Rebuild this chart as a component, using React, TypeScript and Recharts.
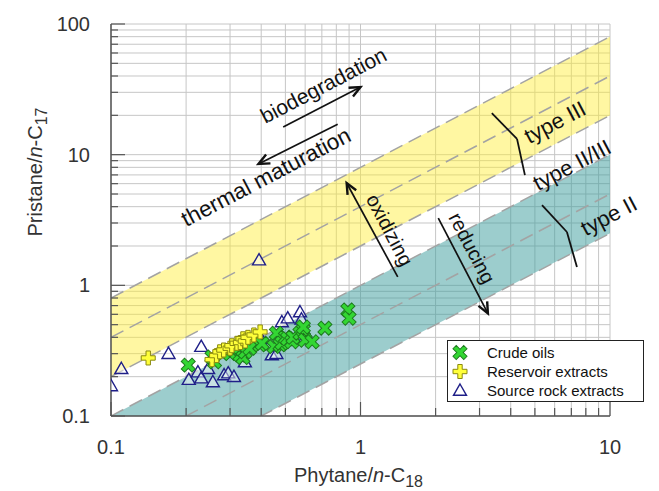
import React from 'react';
import {
  ComposedChart,
  Area,
  Line,
  Scatter,
  XAxis,
  YAxis,
  CartesianGrid,
  ReferenceLine,
  ReferenceDot,
  Legend,
} from 'recharts';

const FONT = '"Liberation Sans", Arial, Helvetica, sans-serif';
const INK = '#111';
const AXIS = '#555';

// axes (log-log)
const xTicks = [0.1, 0.2, 0.3, 0.4, 0.5, 0.6, 0.7, 0.8, 0.9, 1, 2, 3, 4, 5, 6, 7, 8, 9, 10];
const yTicks = [
  0.1, 0.2, 0.3, 0.4, 0.5, 0.6, 0.7, 0.8, 0.9, 1, 2, 3, 4, 5, 6, 7, 8, 9, 10, 20, 30, 40, 50, 60, 70, 80, 90, 100,
];
const xMajor = [0.1, 1, 10];
const yMajor = [0.1, 1, 10, 100];

// kerogen-type bands: Pr/C17 at Ph/C18 = 0.1 and 10
const bandX = [0.1, 10];
const yellowLow = [0.2, 20];
const yellowMid = [0.4, 40];
const yellowHigh = [0.8, 80];
const tealLow = [0.025, 2.5];
const tealMid = [0.05, 5];
const tealHigh = [0.1, 10];

// samples [Ph/C18, Pr/C17]
const crudeOils = [
  [0.204, 0.245], [0.254, 0.283], [0.26, 0.26], [0.3, 0.3], [0.31, 0.32], [0.329, 0.293], [0.338, 0.28],
  [0.345, 0.31], [0.36, 0.33], [0.395, 0.35], [0.403, 0.36], [0.45, 0.34], [0.46, 0.43], [0.476, 0.35],
  [0.484, 0.362], [0.5, 0.4], [0.51, 0.39], [0.53, 0.37], [0.536, 0.4], [0.572, 0.43], [0.59, 0.455],
  [0.59, 0.48], [0.6, 0.38], [0.64, 0.37], [0.72, 0.47], [0.89, 0.648], [0.9, 0.56],
];
const reservoirExtracts = [
  [0.141, 0.278], [0.254, 0.27], [0.265, 0.29], [0.273, 0.31], [0.283, 0.32], [0.3, 0.33], [0.305, 0.345],
  [0.32, 0.36], [0.33, 0.365], [0.338, 0.39], [0.345, 0.375], [0.354, 0.4], [0.374, 0.417], [0.396, 0.44],
];
const sourceRockExtracts = [
  [0.1, 0.17], [0.11, 0.23], [0.17, 0.3], [0.23, 0.34], [0.205, 0.19], [0.223, 0.217], [0.23, 0.195],
  [0.256, 0.182], [0.245, 0.23], [0.284, 0.206], [0.295, 0.213], [0.311, 0.2], [0.344, 0.259], [0.4, 0.39],
  [0.441, 0.293], [0.46, 0.3], [0.476, 0.382], [0.484, 0.524], [0.511, 0.562], [0.572, 0.625], [0.58, 0.55],
  [0.6, 0.4], [0.62, 0.39], [0.392, 1.56],
];

const bandData = bandX.map((x, i) => ({
  x,
  yellow: [yellowLow[i], yellowHigh[i]],
  teal: [tealLow[i], tealHigh[i]],
  yLo: yellowLow[i],
  yMid: yellowMid[i],
  yHi: yellowHigh[i],
  tLo: tealLow[i],
  tMid: tealMid[i],
  tHi: tealHigh[i],
}));

const toPoints = (rows: number[][]) => rows.map(([x, y]) => ({ x, y }));

// markers
function CrossX({ cx, cy }: any) {
  const L = 7.6, a = 2.3;
  const d = `M${-a},${-L}L${a},${-L}L${a},${-a}L${L},${-a}L${L},${a}L${a},${a}L${a},${L}L${-a},${L}L${-a},${a}L${-L},${a}L${-L},${-a}L${-a},${-a}Z`;
  return <path d={d} transform={`translate(${cx},${cy}) rotate(45)`} fill="#33d633" stroke="#1d7a1d" strokeWidth={1} />;
}
function Plus({ cx, cy }: any) {
  const L = 7, a = 2.2;
  const d = `M${-a},${-L}L${a},${-L}L${a},${-a}L${L},${-a}L${L},${a}L${a},${a}L${a},${L}L${-a},${L}L${-a},${a}L${-L},${a}L${-L},${-a}L${-a},${-a}Z`;
  return <path d={d} transform={`translate(${cx},${cy})`} fill="#ffff3a" stroke="#8a8a10" strokeWidth={1} />;
}
function Tri({ cx, cy }: any) {
  return (
    <path
      d={`M${cx},${cy - 6.5}L${cx + 6.5},${cy + 4.8}L${cx - 6.5},${cy + 4.8}Z`}
      fill="rgba(255,255,255,0.45)"
      stroke="#1f1f88"
      strokeWidth={1.4}
    />
  );
}

function XTick({ x, y, payload }: any) {
  const v = payload.value;
  const major = xMajor.includes(v);
  return (
    <g>
      <line x1={x} x2={x} y1={y} y2={y - (major ? 14 : 8)} stroke={AXIS} strokeWidth={1.2} />
      {major && (
        <text x={x} y={y + 31} textAnchor="middle" dominantBaseline="central" fontSize={20} fill="#333" fontFamily={FONT}>
          {String(v)}
        </text>
      )}
    </g>
  );
}

function YTick({ x, y, payload }: any) {
  const v = payload.value;
  const major = yMajor.includes(v);
  return (
    <g>
      <line x1={x} x2={x + (major ? 14 : 7)} y1={y} y2={y} stroke={AXIS} strokeWidth={1.2} />
      {major && (
        <text x={x - 21} y={y} textAnchor="end" dominantBaseline="central" fontSize={20} fill="#333" fontFamily={FONT}>
          {String(v)}
        </text>
      )}
    </g>
  );
}

function XTitle(props: any) {
  const vb = props.viewBox || props;
  const cx = vb.x + vb.width / 2 - 2;
  const cy = vb.y + 66;
  return (
    <text x={cx} y={cy} textAnchor="middle" fontSize={20} fill="#333" fontFamily={FONT}>
      Phytane/<tspan fontStyle="italic">n</tspan>-C<tspan dy={5} fontSize={16}>18</tspan>
    </text>
  );
}

function YTitle(props: any) {
  const vb = props.viewBox || props;
  const cx = vb.x + 42;
  const cy = vb.y + 148;
  return (
    <text x={cx} y={cy} transform={`rotate(-90 ${cx} ${cy})`} textAnchor="middle" fontSize={20} fill="#333" fontFamily={FONT}>
      Pristane/<tspan fontStyle="italic">n</tspan>-C<tspan dy={5} fontSize={16}>17</tspan>
    </text>
  );
}

function Arrow(props: any) {
  const { x1, y1, x2, y2 } = props;
  const ang = Math.atan2(y2 - y1, x2 - x1);
  const len = 12, spread = 0.42;
  const ax = x2 - len * Math.cos(ang - spread), ay = y2 - len * Math.sin(ang - spread);
  const bx = x2 - len * Math.cos(ang + spread), by = y2 - len * Math.sin(ang + spread);
  return (
    <g>
      <line x1={x1} y1={y1} x2={x2} y2={y2} stroke={INK} strokeWidth={1.7} />
      <path d={`M${ax},${ay}L${x2},${y2}L${bx},${by}`} fill="none" stroke={INK} strokeWidth={2.4} />
    </g>
  );
}

function note(text: string, angle: number, size: number) {
  return (p: any) => (
    <text
      x={p.cx}
      y={p.cy}
      transform={`rotate(${angle} ${p.cx} ${p.cy})`}
      textAnchor="middle"
      dominantBaseline="central"
      fontSize={size}
      fill={INK}
      fontFamily={FONT}
    >
      {text}
    </text>
  );
}

const legendRows = [
  { name: 'Crude oils', Mark: CrossX },
  { name: 'Reservoir extracts', Mark: Plus },
  { name: 'Source rock extracts', Mark: Tri },
];

function LegendBox() {
  return (
    <div
      style={{
        width: 197,
        height: 62,
        boxSizing: 'border-box',
        border: '1.5px solid #222',
        background: '#fff',
        paddingTop: 2,
        fontFamily: FONT,
        fontSize: 15,
        color: INK,
      }}
    >
      {legendRows.map(({ name, Mark }) => (
        <div key={name} style={{ display: 'flex', alignItems: 'center', height: 19 }}>
          <svg width={24} height={19}>
            <Mark cx={12} cy={9.5} />
          </svg>
          <span style={{ marginLeft: 15 }}>{name}</span>
        </div>
      ))}
    </div>
  );
}

const dashed = { stroke: '#a3a3a3', strokeWidth: 1.5, strokeDasharray: '14 7', dot: false, isAnimationActive: false, legendType: 'none' as const };
const bracket = { stroke: INK, strokeWidth: 1.8, ifOverflow: 'visible' as const };

export default function App() {
  return (
    <div style={{ position: 'absolute', left: 0, top: 0, background: '#fff' }}>
      <ComposedChart width={659} height={491} data={bandData} margin={{ top: 24, right: 49, bottom: 15, left: 0 }}>
        <CartesianGrid stroke="#c6c6c6" strokeWidth={1} />
        <XAxis
          dataKey="x"
          type="number"
          scale="log"
          domain={[0.1, 10]}
          ticks={xTicks}
          interval={0}
          allowDataOverflow
          height={60}
          tickSize={0}
          tickMargin={0}
          tickLine={false}
          tick={<XTick />}
          axisLine={{ stroke: AXIS, strokeWidth: 1.5 }}
          label={<XTitle />}
        />
        <YAxis
          dataKey="y"
          type="number"
          scale="log"
          domain={[0.1, 100]}
          ticks={yTicks}
          interval={0}
          allowDataOverflow
          width={111}
          tickSize={0}
          tickMargin={0}
          tickLine={false}
          tick={<YTick />}
          axisLine={{ stroke: AXIS, strokeWidth: 1.5 }}
          label={<YTitle />}
        />

        <Area dataKey="yellow" type="linear" fill="#ffee30" fillOpacity={0.45} stroke="none" isAnimationActive={false} legendType="none" />
        <Area dataKey="teal" type="linear" fill="#3a9c9c" fillOpacity={0.5} stroke="none" isAnimationActive={false} legendType="none" />
        <Line dataKey="yLo" {...dashed} />
        <Line dataKey="yMid" {...dashed} />
        <Line dataKey="yHi" {...dashed} />
        <Line dataKey="tLo" {...dashed} />
        <Line dataKey="tMid" {...dashed} />
        <Line dataKey="tHi" {...dashed} />

        <Scatter name="Source rock extracts" data={toPoints(sourceRockExtracts)} dataKey="y" shape={<Tri />} isAnimationActive={false} />
        <Scatter name="Crude oils" data={toPoints(crudeOils)} dataKey="y" shape={<CrossX />} isAnimationActive={false} />
        <Scatter name="Reservoir extracts" data={toPoints(reservoirExtracts)} dataKey="y" shape={<Plus />} isAnimationActive={false} />

        {/* kerogen type brackets */}
        <ReferenceLine segment={[{ x: 3.36, y: 20.8 }, { x: 4.24, y: 13.2 }]} {...bracket} />
        <ReferenceLine segment={[{ x: 4.24, y: 13.2 }, { x: 4.56, y: 6.98 }]} {...bracket} />
        <ReferenceLine segment={[{ x: 5.34, y: 4.11 }, { x: 6.72, y: 2.56 }]} {...bracket} />
        <ReferenceLine segment={[{ x: 6.72, y: 2.56 }, { x: 7.37, y: 1.38 }]} {...bracket} />

        {/* process arrows */}
        <ReferenceLine segment={[{ x: 0.49, y: 16.3 }, { x: 1.0, y: 32.9 }]} ifOverflow="visible" shape={<Arrow />} />
        <ReferenceLine segment={[{ x: 0.81, y: 17.1 }, { x: 0.39, y: 8.5 }]} ifOverflow="visible" shape={<Arrow />} />
        <ReferenceLine segment={[{ x: 1.41, y: 1.16 }, { x: 0.88, y: 6.07 }]} ifOverflow="visible" shape={<Arrow />} />
        <ReferenceLine segment={[{ x: 2.05, y: 3.27 }, { x: 3.24, y: 0.61 }]} ifOverflow="visible" shape={<Arrow />} />

        <ReferenceDot x={0.71} y={34} ifOverflow="visible" shape={note('biodegradation', -27.6, 21)} />
        <ReferenceDot x={0.418} y={6.74} ifOverflow="visible" shape={note('thermal maturation', -27.6, 22.5)} />
        <ReferenceDot x={1.31} y={2.65} ifOverflow="visible" shape={note('oxidizing', 62.4, 20)} />
        <ReferenceDot x={2.8} y={1.93} ifOverflow="visible" shape={note('reducing', 62.4, 20)} />
        <ReferenceDot x={6.02} y={17.7} ifOverflow="visible" shape={note('type III', -27.6, 22)} />
        <ReferenceDot x={7.04} y={8.32} ifOverflow="visible" shape={note('type II/III', -27.6, 22)} />
        <ReferenceDot x={9.9} y={3.4} ifOverflow="visible" shape={note('type II', -27.6, 22)} />

        <Legend
          layout="horizontal"
          verticalAlign="middle"
          align="center"
          wrapperStyle={{ position: 'absolute', left: 447, top: 340, width: 197, height: 62 }}
          content={() => <LegendBox />}
        />
      </ComposedChart>
    </div>
  );
}
